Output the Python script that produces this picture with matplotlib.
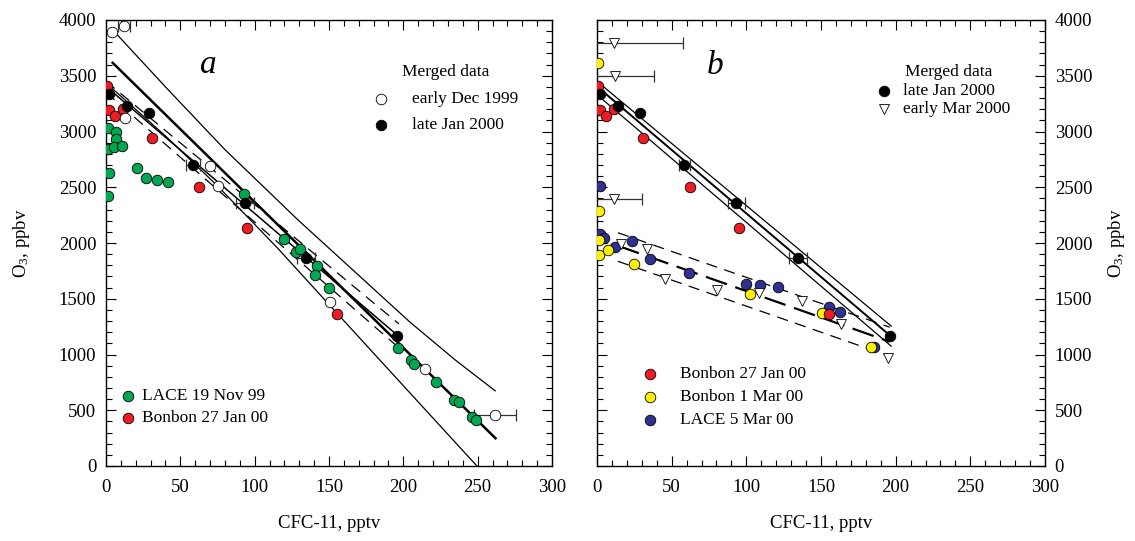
import matplotlib
matplotlib.use("Agg")
import matplotlib.pyplot as plt
import numpy as np
from matplotlib.ticker import MultipleLocator

plt.rcParams['font.family'] = ['Liberation Serif', 'DejaVu Serif']
plt.rcParams['mathtext.fontset'] = 'custom'
plt.rcParams['mathtext.rm'] = 'Liberation Serif'
plt.rcParams['mathtext.it'] = 'Liberation Serif:italic'

# ---- data ----
# merged data, late Jan 2000 (both panels)
jan_cfc = [2, 14, 29, 58.5, 93.3, 134.4, 196]
jan_o3 = [3335, 3230, 3167, 2697, 2358, 1864, 1166]
jan_err = [0, 0, 0, 4.5, 6, 6, 0]

# merged data, early Dec 1999 (panel a)
dec_cfc = [4, 12, 12.8, 70, 75, 151, 214.4, 261.6]
dec_o3 = [3889, 3946, 3122, 2692, 2512, 1471, 866, 456]
dec_err = [0, 4, 0, 0, 0, 0, 0, 14]

# LACE 19 Nov 99 (panel a)
lace_nov_cfc = [1.1, 6.7, 6.7, 1.6, 5.6, 10.6, 2, 1.6, 20.7, 27, 34.4, 41.8, 92.6,
                119.4, 128.1, 130.8, 141.6, 140.9, 149.9, 196.7, 205, 207.5, 222.3,
                233.8, 237.6, 246.3, 249]
lace_nov_o3 = [3029, 2993, 2936, 2843, 2858, 2867, 2628, 2424, 2670, 2583, 2565, 2548, 2436,
               2040, 1918, 1948, 1795, 1717, 1594, 1055, 950, 911, 755,
               596, 573, 438, 411]

# Bonbon 27 Jan 00 (both panels)
bb_jan_cfc = [1, 2, 6, 11.5, 31, 62.4, 94.8, 155.6]
bb_jan_o3 = [3407, 3197, 3143, 3206, 2946, 2504, 2133, 1362]

# merged data, early Mar 2000 (panel b)
mar_cfc = [11.4, 11.9, 11.2, 16.2, 33.3, 45.4, 80.2, 108.3, 137.6, 163.3, 194.9]
mar_o3 = [3796, 3497, 2391, 1987, 1942, 1681, 1582, 1549, 1483, 1272, 973]
mar_err = [46, 26, 19, 0, 0, 0, 0, 0, 0, 0, 0]

# Bonbon 1 Mar 00 (panel b)
bb_mar_cfc = [0.7, 0.7, 1.1, 1.1, 1.1, 7.4, 24.7, 102.7, 150.9, 183.4]
bb_mar_o3 = [3616, 3197, 2285, 2031, 1894, 1933, 1813, 1543, 1372, 1063]

# LACE 5 Mar 00 (panel b)
lace_mar_cfc = [1.8, 2.2, 4.5, 11.9, 23.6, 35.7, 61.4, 99.8, 109.2, 121.4, 155.1, 162.8, 185.6]
lace_mar_o3 = [2508, 2083, 2047, 1966, 2020, 1858, 1729, 1630, 1627, 1603, 1429, 1381, 1063]

# reference lines, panel a
up_cfc = [6.7, 40, 79.8, 129.3, 170, 204.5, 235, 261.8]
up_o3 = [3880, 3400, 2840, 2205, 1710, 1290, 950, 674]
low_cfc = [3, 40, 75, 115, 155.8, 200, 249.5]
low_o3 = [3400, 2960, 2512, 1960, 1364, 720, 0]
thick_cfc = [4.5, 262]
thick_o3 = [3616, 249]
fit_cfc = [0, 197]
fit_o3 = [3404, 1161]
fit_hi_o3 = [3450, 1275]
fit_lo_o3 = [3350, 1060]

# reference lines, panel b
fitb_hi_o3 = [3450, 1255]
fitb_lo_o3 = [3330, 1075]
mfit_cfc = [14, 196]
mfit_o3 = [1975, 1115]
mfit_hi_o3 = [2092, 1245]
mfit_lo_o3 = [1836, 985]

GREEN = '#00A651'
RED = '#ED1C24'
YELLOW = '#FFF200'
BLUE = '#2E3192'
MS = 7.6

fig = plt.figure(figsize=(11.35, 5.41), dpi=100)
ax_a = fig.add_axes([106 / 1135, 75 / 541, 446 / 1135, 446 / 541])
ax_b = fig.add_axes([597 / 1135, 75 / 541, 448 / 1135, 446 / 541])


def dots(ax, x, y, face, marker='o', size=MS):
    ax.plot(x, y, linestyle='none', marker=marker, ms=size, mfc=face,
            mec='black', mew=0.6, zorder=5)


def errs(ax, x, y, e):
    for xi, yi, ei in zip(x, y, e):
        if ei > 0:
            ax.errorbar(xi, yi, xerr=ei, fmt='none', ecolor='#333333',
                        elinewidth=0.9, capsize=4, capthick=0.9, zorder=4)


for ax in (ax_a, ax_b):
    ax.set_xlim(0, 300)
    ax.set_ylim(0, 4000)
    ax.xaxis.set_major_locator(MultipleLocator(50))
    ax.xaxis.set_minor_locator(MultipleLocator(10))
    ax.yaxis.set_major_locator(MultipleLocator(500))
    ax.yaxis.set_minor_locator(MultipleLocator(100))
    ax.tick_params(which='both', direction='in', top=True, right=True,
                   labelsize=13.5, width=0.8)
    ax.tick_params(which='major', length=7)
    ax.tick_params(which='minor', length=4)
    ax.tick_params(axis='y', pad=7)
    ax.tick_params(axis='x', pad=9)
    for s in ax.spines.values():
        s.set_linewidth(1.0)
    ax.set_xlabel('CFC-11, pptv', fontsize=13.5, labelpad=14)

# ---- panel a ----
ax_a.plot(up_cfc, up_o3, color='black', lw=0.9)
ax_a.plot(low_cfc, low_o3, color='black', lw=0.9)
ax_a.plot(thick_cfc, thick_o3, color='black', lw=1.8)
ax_a.plot(fit_cfc, fit_o3, color='black', lw=1.1)
ax_a.plot(fit_cfc, fit_hi_o3, color='black', lw=0.9, dashes=(9, 6))
ax_a.plot(fit_cfc, fit_lo_o3, color='black', lw=0.9, dashes=(9, 6))

errs(ax_a, dec_cfc, dec_o3, dec_err)
errs(ax_a, jan_cfc, jan_o3, jan_err)
dots(ax_a, lace_nov_cfc, lace_nov_o3, GREEN)
dots(ax_a, bb_jan_cfc, bb_jan_o3, RED)
dots(ax_a, dec_cfc, dec_o3, 'white')
dots(ax_a, jan_cfc, jan_o3, 'black')

ax_a.text(69, 3600, 'a', fontsize=24, style='italic', ha='center', va='center')
ax_a.text(199, 3530, 'Merged data', fontsize=12.5, va='center')
dots(ax_a, [185], [3293], 'white')
ax_a.text(206, 3293, 'early Dec 1999', fontsize=12.5, va='center')
dots(ax_a, [185], [3060], 'black')
ax_a.text(206, 3060, 'late Jan 2000', fontsize=12.5, va='center')
dots(ax_a, [15], [626], GREEN)
ax_a.text(24, 626, 'LACE 19 Nov 99', fontsize=12.5, va='center')
dots(ax_a, [15], [430], RED)
ax_a.text(24, 430, 'Bonbon 27 Jan 00', fontsize=12.5, va='center')

ax_a.set_ylabel('O$_3$, ppbv', fontsize=13.5, labelpad=19)

# ---- panel b ----
ax_b.plot(fit_cfc, fit_o3, color='black', lw=1.4)
ax_b.plot(fit_cfc, fitb_hi_o3, color='black', lw=0.9)
ax_b.plot(fit_cfc, fitb_lo_o3, color='black', lw=0.9)
ax_b.plot(mfit_cfc, mfit_o3, color='black', lw=1.6, dashes=(10, 4))
ax_b.plot(mfit_cfc, mfit_hi_o3, color='black', lw=0.9, dashes=(9, 6))
ax_b.plot(mfit_cfc, mfit_lo_o3, color='black', lw=0.9, dashes=(9, 6))

errs(ax_b, mar_cfc, mar_o3, mar_err)
errs(ax_b, jan_cfc, jan_o3, [0, 0, 0, 3.5, 5.5, 6, 0])
dots(ax_b, lace_mar_cfc, lace_mar_o3, BLUE)
dots(ax_b, bb_mar_cfc, bb_mar_o3, YELLOW)
dots(ax_b, bb_jan_cfc, bb_jan_o3, RED)
dots(ax_b, mar_cfc, mar_o3, 'white', marker='v', size=7.5)
dots(ax_b, jan_cfc, jan_o3, 'black')

ax_b.text(79, 3590, 'b', fontsize=24, style='italic', ha='center', va='center')
ax_b.text(206, 3530, 'Merged data', fontsize=12.5, va='center')
dots(ax_b, [192], [3365], 'black')
ax_b.text(205, 3365, 'late Jan 2000', fontsize=12.5, va='center')
dots(ax_b, [192], [3204], 'white', marker='v', size=7.5)
ax_b.text(205, 3204, 'early Mar 2000', fontsize=12.5, va='center')
dots(ax_b, [35.5], [823], RED)
ax_b.text(55.6, 823, 'Bonbon 27 Jan 00', fontsize=12.5, va='center')
dots(ax_b, [35.5], [617], YELLOW)
ax_b.text(55.6, 617, 'Bonbon 1 Mar 00', fontsize=12.5, va='center')
dots(ax_b, [35.5], [412], BLUE)
ax_b.text(55.6, 412, 'LACE 5 Mar 00', fontsize=12.5, va='center')

ax_b.tick_params(axis='y', labelleft=False, labelright=True)
ax_b.yaxis.set_label_position('right')
ax_b.set_ylabel('O$_3$, ppbv', fontsize=13.5, labelpad=10)

fig.savefig('out.png', dpi=100)
